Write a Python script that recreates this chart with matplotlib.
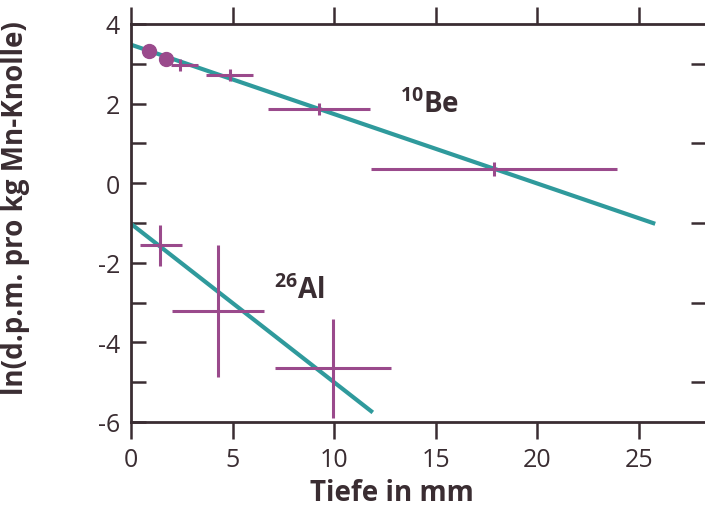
import matplotlib
matplotlib.use("Agg")
import matplotlib.pyplot as plt

# 10Be data (depth in mm, ln(dpm/kg))
be_dots_x = [0.91, 1.71]
be_dots_y = [3.33, 3.13]
be_x = [2.40, 4.86, 9.23, 17.86]
be_y = [2.98, 2.72, 1.86, 0.36]
be_xlo = [1.96, 3.67, 6.72, 11.82]
be_xhi = [3.29, 6.02, 11.77, 23.91]
be_yerr = [0.15, 0.15, 0.15, 0.18]
be_fit_x = [0.0, 25.8]
be_fit_y = [3.48, -1.02]

# 26Al data
al_x = [1.45, 4.28, 9.96]
al_y = [-1.55, -3.20, -4.65]
al_xlo = [0.44, 2.02, 7.10]
al_xhi = [2.49, 6.53, 12.81]
al_ylo = [-2.07, -4.88, -5.89]
al_yhi = [-1.06, -1.55, -3.40]
al_fit_x = [0.0, 11.9]
al_fit_y = [-1.02, -5.76]

x_ticks = [0, 5, 10, 15, 20, 25]
y_ticks = [4, 2, 0, -2, -4, -6]

TEAL = "#2f9a9c"
PURPLE = "#9a4a8c"
INK = "#3a2d32"

plt.rcParams["font.family"] = ["Open Sans", "DejaVu Sans"]
plt.rcParams["mathtext.fontset"] = "custom"
plt.rcParams["mathtext.rm"] = "Open Sans:bold"
plt.rcParams["mathtext.default"] = "rm"
plt.rcParams["axes.unicode_minus"] = False

fig = plt.figure(figsize=(7.05, 5.1), dpi=100)
ax = fig.add_axes([131 / 705, 87 / 510, 575 / 705, 398 / 510])

# fit lines
ax.plot(be_fit_x, be_fit_y, color=TEAL, lw=3, solid_capstyle="butt", zorder=2)
ax.plot(al_fit_x, al_fit_y, color=TEAL, lw=3, solid_capstyle="butt", zorder=2)

# 10Be error crosses
be_xerr = [[x - lo for x, lo in zip(be_x, be_xlo)], [hi - x for x, hi in zip(be_x, be_xhi)]]
ax.errorbar(be_x, be_y, xerr=be_xerr, yerr=be_yerr, fmt="none", ecolor=PURPLE,
            elinewidth=2.2, capsize=0, zorder=3)
ax.plot(be_dots_x, be_dots_y, "o", color=PURPLE, ms=10, mec=PURPLE, zorder=3)

# 26Al error crosses
al_xerr = [[x - lo for x, lo in zip(al_x, al_xlo)], [hi - x for x, hi in zip(al_x, al_xhi)]]
al_yerr = [[y - lo for y, lo in zip(al_y, al_ylo)], [hi - y for y, hi in zip(al_y, al_yhi)]]
ax.errorbar(al_x, al_y, xerr=al_xerr, yerr=al_yerr, fmt="none", ecolor=PURPLE,
            elinewidth=2.2, capsize=0, zorder=3)

ax.text(13.24, 1.79, r"$^{10}$Be", fontsize=20, fontweight="bold", color=INK,
        va="baseline", ha="left")
ax.text(7.04, -2.88, r"$^{26}$Al", fontsize=20, fontweight="bold", color=INK,
        va="baseline", ha="left")

ax.set_xlim(0, 28.3)
ax.set_ylim(-6, 4)
ax.set_xticks(x_ticks)
ax.set_yticks(y_ticks)
ax.set_yticks(range(-5, 4), minor=True)

for side in ["left", "bottom", "top", "right"]:
    ax.spines[side].set_linewidth(2.0)
    ax.spines[side].set_color(INK)

ax.tick_params(axis="x", which="major", direction="out", top=True, bottom=True,
               length=12, width=1.8, color=INK, labelsize=18, labelcolor=INK, pad=6)
ax.tick_params(axis="y", which="both", direction="in", left=True, right=True,
               length=11, width=1.8, color=INK, labelsize=18, labelcolor=INK, pad=8)
ax.tick_params(axis="y", which="major", right=False)
ax.tick_params(axis="y", which="minor", right=True)

ax.set_xlabel("Tiefe in mm", fontsize=20, fontweight="bold", color=INK, labelpad=0)
ax.xaxis.set_label_coords(0.454, -0.14)
ax.set_ylabel("ln(d.p.m. pro kg Mn-Knolle)", fontsize=20, fontweight="bold", color=INK)
ax.yaxis.set_label_coords(-0.175, 0.54)

fig.savefig("out.png", dpi=100)
